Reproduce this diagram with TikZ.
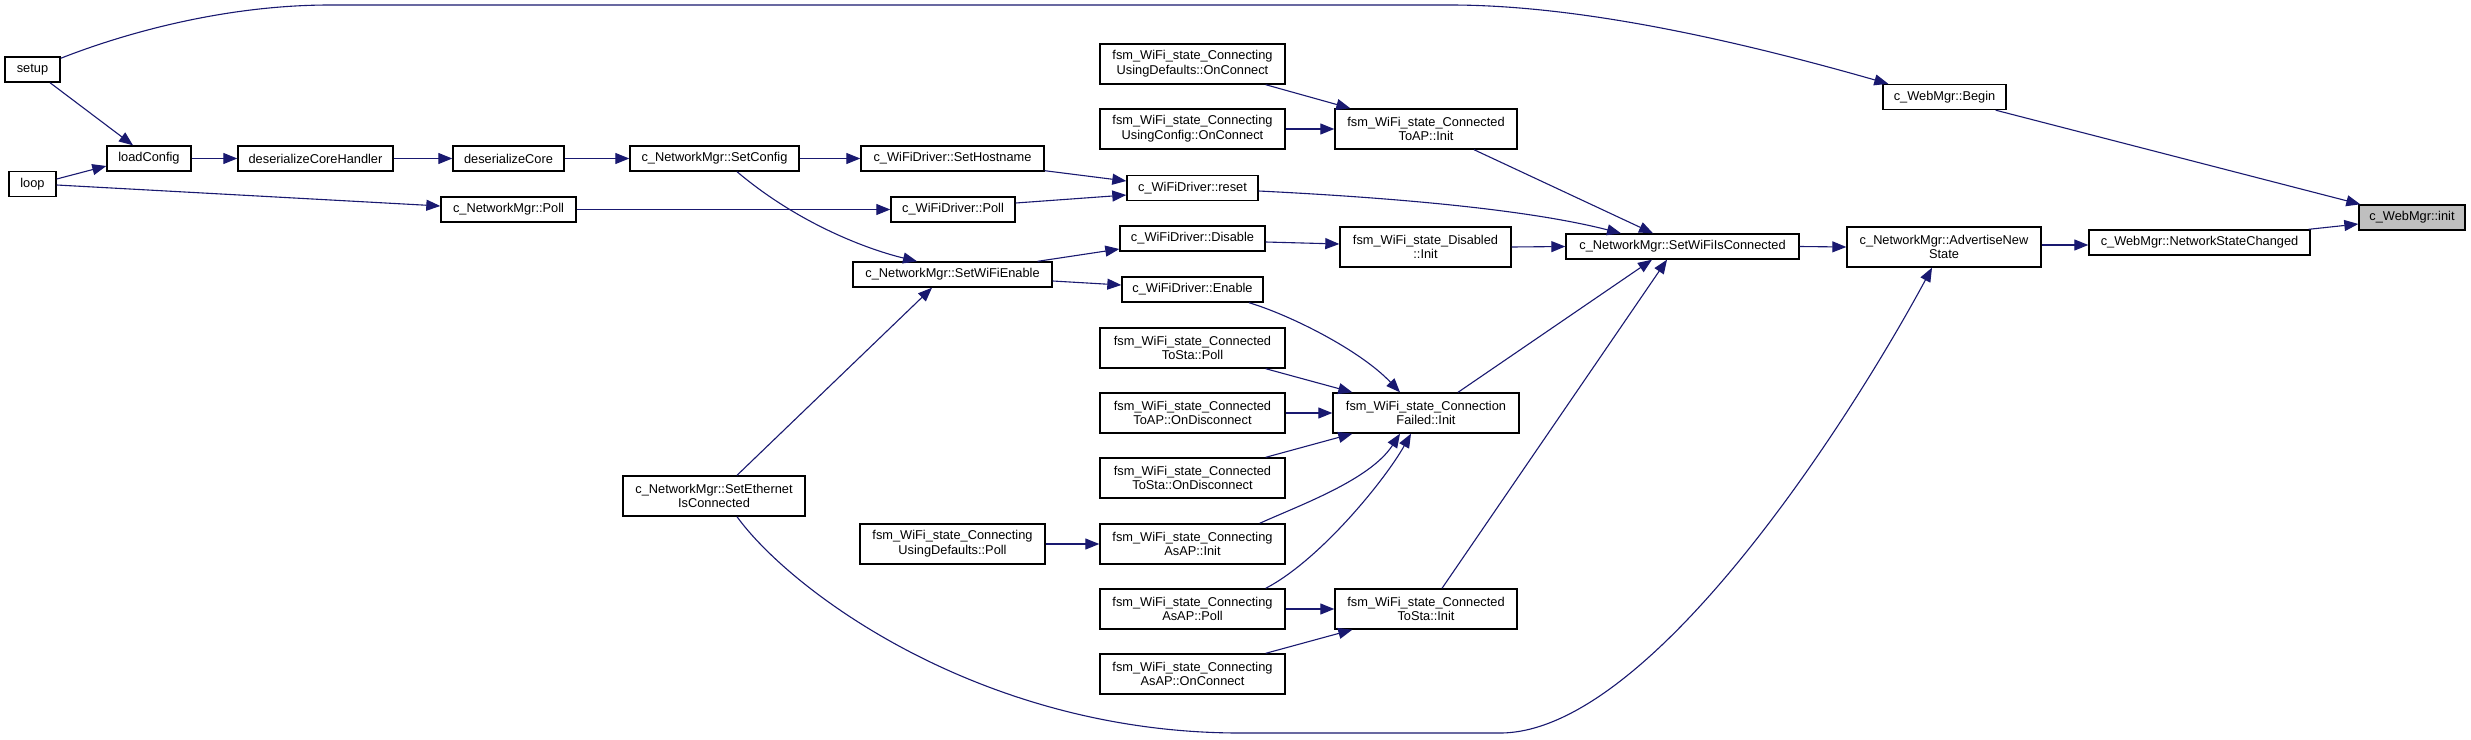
\documentclass[tikz,border=0pt]{standalone}
\usepackage{fontspec}
\setmainfont{Liberation Sans}
\usetikzlibrary{arrows.meta}
\definecolor{edgecol}{HTML}{191970}
\definecolor{initfill}{HTML}{BFBFBF}
\begin{document}
\begin{tikzpicture}[x=0.5pt,y=-0.5pt,
  fn/.style={draw=black, line width=0.7pt, fill=white, inner sep=0pt, align=center,
    font=\fontsize{6.4}{7.35}\selectfont, minimum height=12.5pt},
  fn2/.style={fn, minimum height=20pt},
  call/.style={draw=edgecol, line width=0.55pt, -{Triangle[length=7pt,width=5.5pt]}, fill=none}
]
\useasboundingbox[fill=white] (0,0) rectangle (2471,739);

% nodes
\node[fn, minimum width=27.5pt] (setup) at (32.5,69.5) {setup};
\node[fn, minimum width=23.5pt] (loop) at (32.5,184) {loop};
\node[fn, minimum width=42pt] (loadConfig) at (149,158.5) {loadConfig};
\node[fn, minimum width=77.5pt] (dCH) at (315.5,158.5) {deserializeCoreHandler};
\node[fn, minimum width=55.5pt] (dC) at (508.5,158.5) {deserializeCore};
\node[fn, minimum width=84.5pt] (SetConfig) at (714.5,158.5) {c\_NetworkMgr::SetConfig};
\node[fn, minimum width=67.5pt] (NMPoll) at (508.5,209.5) {c\_NetworkMgr::Poll};
\node[fn, minimum width=91.5pt] (SetHostname) at (952.5,158.5) {c\_WiFiDriver::SetHostname};
\node[fn, minimum width=62pt] (WDPoll) at (953,209.5) {c\_WiFiDriver::Poll};
\node[fn, minimum width=99.5pt] (SetWiFiEnable) at (952.5,274.5) {c\_NetworkMgr::SetWiFiEnable};
\node[fn2, minimum width=91pt] (SetEthernet) at (714,496) {c\_NetworkMgr::SetEthernet\\IsConnected};
\node[fn, minimum width=65.5pt] (reset) at (1192.5,188) {c\_WiFiDriver::reset};
\node[fn, minimum width=72.5pt] (Disable) at (1192.5,238.5) {c\_WiFiDriver::Disable};
\node[fn, minimum width=70.5pt] (Enable) at (1192.5,289.5) {c\_WiFiDriver::Enable};
\node[fn2, minimum width=92.5pt] (UDOnConnect) at (1192.5,64) {fsm\_WiFi\_state\_Connecting\\UsingDefaults::OnConnect};
\node[fn2, minimum width=92.5pt] (UCOnConnect) at (1192.5,129) {fsm\_WiFi\_state\_Connecting\\UsingConfig::OnConnect};
\node[fn2, minimum width=92.5pt] (CStaPoll) at (1192.5,348) {fsm\_WiFi\_state\_Connected\\ToSta::Poll};
\node[fn2, minimum width=92.5pt] (CAPOnDis) at (1192.5,413) {fsm\_WiFi\_state\_Connected\\ToAP::OnDisconnect};
\node[fn2, minimum width=92.5pt] (CStaOnDis) at (1192.5,478) {fsm\_WiFi\_state\_Connected\\ToSta::OnDisconnect};
\node[fn2, minimum width=92.5pt] (UDPoll) at (952.5,544) {fsm\_WiFi\_state\_Connecting\\UsingDefaults::Poll};
\node[fn2, minimum width=92.5pt] (AsAPInit) at (1192.5,544) {fsm\_WiFi\_state\_Connecting\\AsAP::Init};
\node[fn2, minimum width=92.5pt] (AsAPPoll) at (1192.5,609) {fsm\_WiFi\_state\_Connecting\\AsAP::Poll};
\node[fn2, minimum width=92.5pt] (AsAPOnConnect) at (1192.5,674) {fsm\_WiFi\_state\_Connecting\\AsAP::OnConnect};
\node[fn2, minimum width=91pt] (CAPInit) at (1426,129) {fsm\_WiFi\_state\_Connected\\ToAP::Init};
\node[fn2, minimum width=85.5pt] (DisInit) at (1425.5,247) {fsm\_WiFi\_state\_Disabled\\::Init};
\node[fn2, minimum width=93pt] (CFInit) at (1426,413) {fsm\_WiFi\_state\_Connection\\Failed::Init};
\node[fn2, minimum width=91pt] (CStaInit) at (1426,609) {fsm\_WiFi\_state\_Connected\\ToSta::Init};
\node[fn, minimum width=116.5pt] (SWIC) at (1682.5,246.5) {c\_NetworkMgr::SetWiFiIsConnected};
\node[fn2, minimum width=97pt] (Advertise) at (1944,247) {c\_NetworkMgr::AdvertiseNew\\State};
\node[fn, minimum width=61.5pt] (Begin) at (1944.5,97) {c\_WebMgr::Begin};
\node[fn, minimum width=110.5pt] (NSC) at (2199.5,242.5) {c\_WebMgr::NetworkStateChanged};
\node[fn, minimum width=53pt, fill=initfill] (init) at (2412,217.5) {c\_WebMgr::init};

% edges
\draw[call] ([yshift=-1pt]setup.north east) .. controls (125,33) and (225,5) .. (330,5) -- (1450,5) .. controls (1560,5) and (1700,30) .. ([xshift=3pt]Begin.north west);
\draw[call] ([xshift=8.75pt]setup.south) -- ([xshift=-8pt]loadConfig.north);
\draw[call] ([yshift=2.5pt]loop.east) -- ([yshift=-3.75pt]loadConfig.west);
\draw[call] ([yshift=-0.5pt]loop.east) -- ([yshift=1.75pt]NMPoll.west);
\draw[call] (loadConfig.east) -- (dCH.west);
\draw[call] (dCH.east) -- (dC.west);
\draw[call] (dC.east) -- (SetConfig.west);
\draw[call] (SetConfig.east) -- (SetHostname.west);
\draw[call] ([xshift=11.25pt]SetConfig.south) .. controls (800,225) and (870,250) .. ([xshift=-17.75pt]SetWiFiEnable.north);
\draw[call] (NMPoll.east) -- (WDPoll.west);
\draw[call] ([yshift=0.5pt]SetHostname.south east) -- ([yshift=3.5pt]reset.west);
\draw[call] ([yshift=3.25pt]WDPoll.east) -- ([yshift=-3.5pt]reset.west);
\draw[call] ([xshift=-7.5pt]SetWiFiEnable.north east) -- ([yshift=-5.25pt]Disable.west);
\draw[call] ([yshift=-3.25pt]SetWiFiEnable.east) -- ([yshift=2.25pt]Enable.west);
\draw[call] ([xshift=11.5pt]SetEthernet.north) -- ([xshift=-10.25pt]SetWiFiEnable.south);
\draw[call] ([xshift=11.5pt]SetEthernet.south) .. controls (790,590) and (980,733) .. (1240,733) -- (1500,733) .. controls (1650,733) and (1850,420) .. ([xshift=-6pt]Advertise.south);
\draw[call] ([xshift=-10pt]UDOnConnect.south east) -- ([xshift=8pt]CAPInit.north west);
\draw[call] (UCOnConnect.east) -- (CAPInit.west);
\draw[call] ([xshift=24pt]CAPInit.south) -- ([xshift=-14.75pt]SWIC.north);
\draw[call] ([yshift=-1.5pt]reset.east) .. controls (1400,198) and (1530,210) .. ([xshift=-30.75pt]SWIC.north);
\draw[call] ([yshift=-1.75pt]Disable.east) -- ([yshift=1.5pt]DisInit.west);
\draw[call] (DisInit.east) -- (SWIC.west);
\draw[call] ([xshift=28.25pt]Enable.south) .. controls (1290,315) and (1360,350) .. ([xshift=-13pt]CFInit.north);
\draw[call] ([xshift=-10pt]CStaPoll.south east) -- ([xshift=10pt]CFInit.north west);
\draw[call] (CAPOnDis.east) -- (CFInit.west);
\draw[call] ([xshift=-10pt]CStaOnDis.north east) -- ([xshift=10pt]CFInit.south west);
\draw[call] ([xshift=-13pt]AsAPInit.north east) .. controls (1300,505) and (1370,480) .. ([xshift=-13pt]CFInit.south);
\draw[call] ([xshift=-10pt]AsAPPoll.north east) .. controls (1320,560) and (1385,480) .. ([xshift=-7.5pt]CFInit.south);
\draw[call] (AsAPPoll.east) -- (CStaInit.west);
\draw[call] ([xshift=-10pt]AsAPOnConnect.north east) -- ([xshift=9pt]CStaInit.south west);
\draw[call] (UDPoll.east) -- (AsAPInit.west);
\draw[call] ([xshift=16pt]CFInit.north) -- ([xshift=-15.25pt]SWIC.south);
\draw[call] ([xshift=8pt]CStaInit.north) -- ([xshift=-7.75pt]SWIC.south);
\draw[call] (SWIC.east) -- (Advertise.west);
\draw[call] ([yshift=1pt]Advertise.east) -- ([yshift=-1.25pt]NSC.west);
\draw[call] ([xshift=-1pt]NSC.north east) -- ([yshift=-3.25pt]init.west);
\draw[call] ([xshift=-5.5pt]Begin.south east) -- ([xshift=1pt]init.north west);
\end{tikzpicture}
\end{document}
